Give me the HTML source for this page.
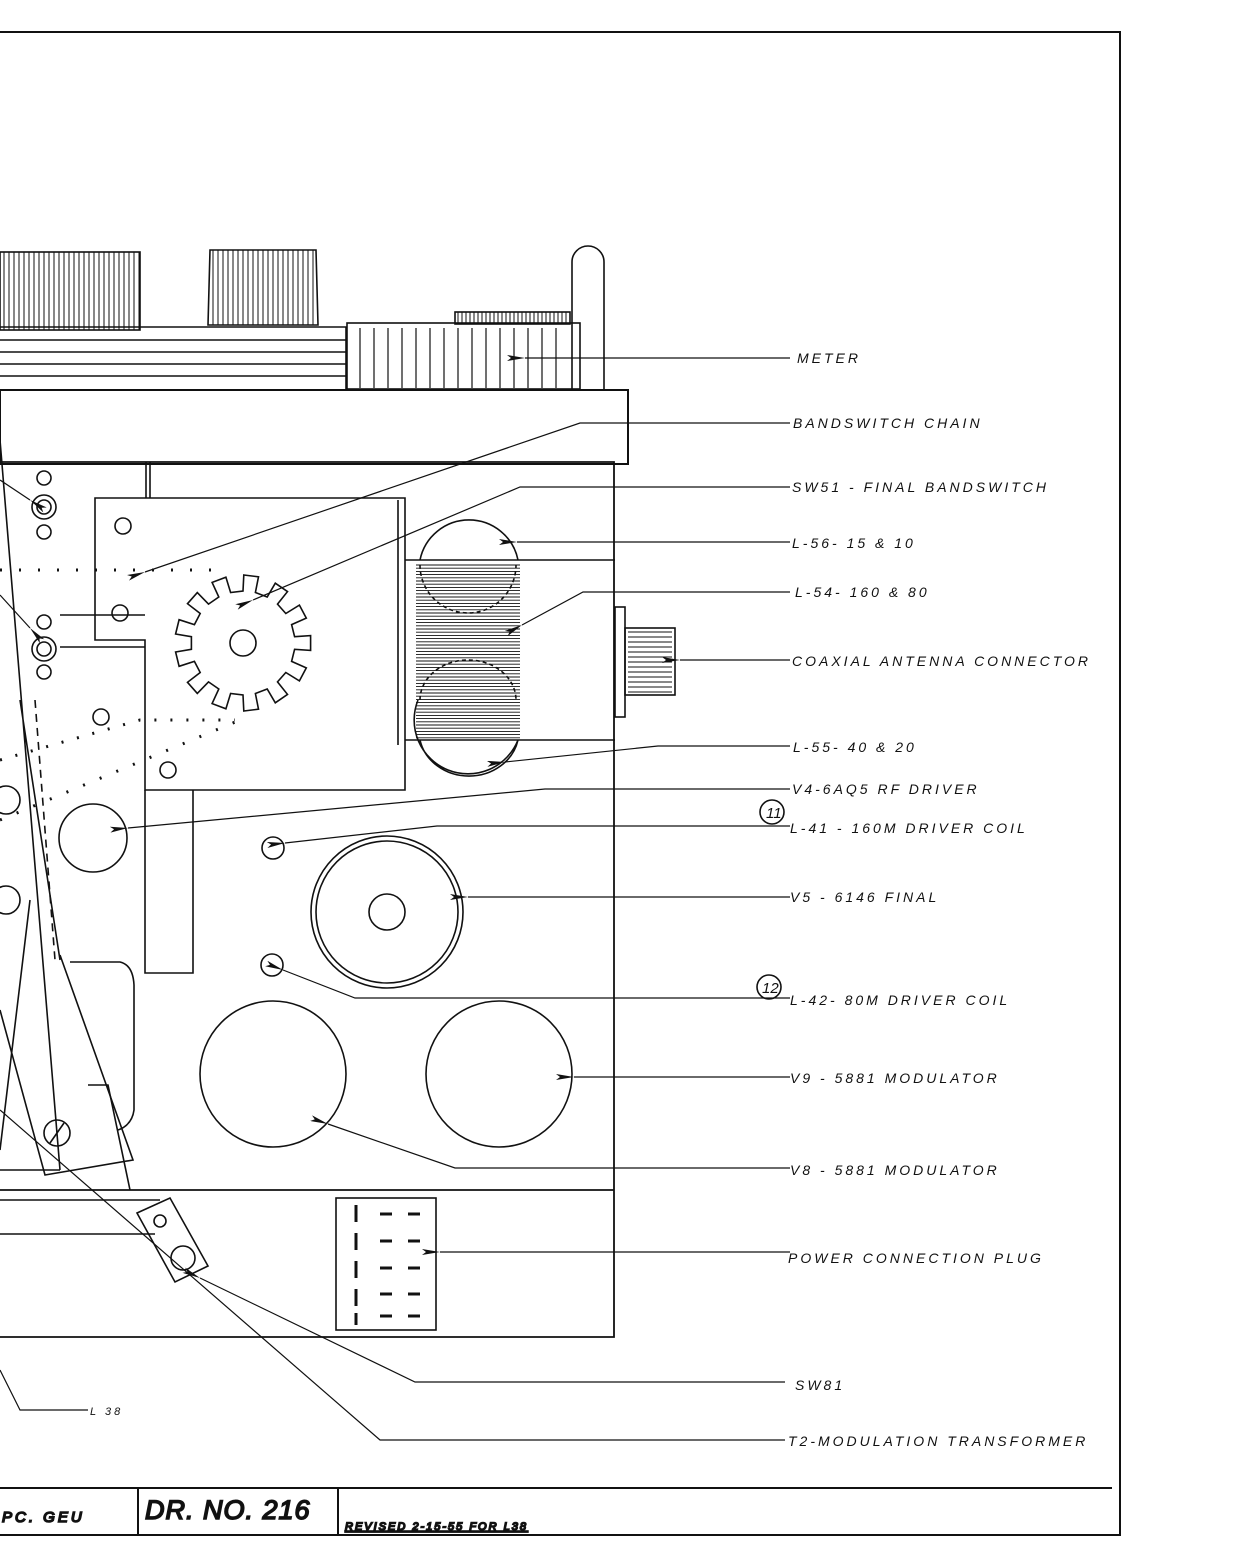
<!DOCTYPE html>
<html><head><meta charset="utf-8"><style>
html,body{margin:0;padding:0;background:#fff;}
svg{display:block;}
text{font-family:"Liberation Sans",sans-serif;font-style:italic;font-size:14px;letter-spacing:3px;fill:#111;}
</style></head><body>
<svg id="s" width="1260" height="1568" viewBox="0 0 1260 1568" xmlns="http://www.w3.org/2000/svg" fill="none" stroke="#111" stroke-width="1.6">
<defs><marker id="a" markerWidth="18" markerHeight="6" refX="0" refY="3" orient="auto-start-reverse" markerUnits="userSpaceOnUse"><path d="M0,3 L18,0 L14,3 L18,6Z" fill="#111" stroke="none"/></marker></defs>
<!-- frame -->
<path d="M0,32 H1120 V1535 H0" stroke-width="2"/>
<path d="M0,1488 H1112 M138,1488 V1535 M338,1488 V1535" stroke-width="2"/>
<text x="2" y="1522" style="font-size:15px">PC. GEU</text>
<text x="145" y="1519" style="font-size:27px;letter-spacing:1px">DR. NO. 216</text>
<text x="345" y="1530" style="font-size:11px;letter-spacing:2px;text-decoration:underline">REVISED 2-15-55 FOR L38</text>
<!-- knobs -->
<g id="knobs">
<rect x="0" y="252" width="140" height="78"/>
<path d="M210,250 H316 L318,325 H208Z"/>
</g>
<path d="M0,327 H346 V390 M0,340 H346 M0,352 H346 M0,364 H346 M0,376 H346"/>
<rect x="347" y="323" width="233" height="66"/>
<rect x="455" y="312" width="115" height="12"/>
<path d="M572,390 V262 A16,16 0 0 1 604,262 V390"/>
<rect x="0" y="390" width="628" height="74" stroke-width="2"/>
<!-- chassis -->
<path d="M0,462 H614 V1337 H0 M0,1190 H614" stroke-width="1.8"/>
<path d="M146,462 V498 M150,462 V498"/>
<path d="M95,498 H405 V790 H145 V640 H95Z"/>
<path d="M145,790 V973 H193 V790 M398,500 V745 M405,560 H615 M405,740 H615 M60,615 H145 M60,647 H145"/>
<!-- coils -->
<path d="M420,560 A50,50 0 0 1 518,560"/>
<path d="M418,700 A50,50 0 0 0 518,740 A50,45 0 0 1 420,740"/>
<g id="coil"></g>
<path d="M420,565 A48,48 0 0 0 516,565 M420,700 A48,40 0 0 1 516,700" stroke-dasharray="4 3"/>
<!-- coax -->
<rect x="615" y="607" width="10" height="110"/>
<rect x="625" y="628" width="50" height="67"/>
<g id="coax"></g>
<!-- gear -->
<path id="gear"/>
<circle cx="243" cy="643" r="13"/>
<!-- screws -->
<circle cx="123" cy="526" r="8"/><circle cx="120" cy="613" r="8"/><circle cx="101" cy="717" r="8"/><circle cx="168" cy="770" r="8"/>
<circle cx="44" cy="507" r="12"/><circle cx="44" cy="507" r="7"/><circle cx="44" cy="478" r="7"/><circle cx="44" cy="532" r="7"/>
<circle cx="44" cy="649" r="12"/><circle cx="44" cy="649" r="7"/><circle cx="44" cy="622" r="7"/><circle cx="44" cy="672" r="7"/>
<circle cx="273" cy="848" r="11"/><circle cx="272" cy="965" r="11"/>
<circle cx="6" cy="800" r="14"/><circle cx="6" cy="900" r="14"/>
<!-- slanted bar -->
<path d="M0,440 L60,1170 M0,1170 H60 M20,700 L60,960 M0,1150 L30,900"/>
<path d="M35,700 L55,960" stroke-dasharray="8 6"/>
<path d="M0,760 L140,720 L235,720" stroke-dasharray="2 14" stroke-width="3"/>
<path d="M0,570 H220" stroke-dasharray="2 17" stroke-width="3"/>
<path d="M0,820 L240,720" stroke-dasharray="2 16" stroke-width="3"/>
<path d="M60,955 L133,1160 L45,1175 L0,1010"/>
<circle cx="57" cy="1133" r="13"/><path d="M50,1143 L64,1123"/>
<path d="M70,962 H120 Q133,965 134,985 V1110 Q132,1125 118,1130 M88,1085 H108 L130,1190"/>
<!-- tubes -->
<circle cx="93" cy="838" r="34"/>
<circle cx="387" cy="912" r="76"/><circle cx="387" cy="912" r="71"/><circle cx="387" cy="912" r="18"/>
<circle cx="273" cy="1074" r="73"/><circle cx="499" cy="1074" r="73"/>
<!-- plug -->
<rect x="336" y="1198" width="100" height="132"/>
<g stroke-width="3"><path d="M356,1205 V1222 M356,1233 V1250 M356,1261 V1278 M356,1289 V1306 M356,1313 V1325"/>
<path d="M380,1214 h12 M408,1214 h12 M380,1241 h12 M408,1241 h12 M380,1268 h12 M408,1268 h12 M380,1294 h12 M408,1294 h12 M380,1316 h12 M408,1316 h12"/></g>
<!-- SW81 -->
<path d="M137,1213 L170,1198 L208,1266 L175,1282Z"/><circle cx="160" cy="1221" r="6"/><circle cx="183" cy="1258" r="12"/>
<path d="M0,1200 H160 M0,1234 H155"/>
<!-- leaders -->
<g stroke-width="1.2">
<path d="M790,358 H525" marker-end="url(#a)"/>
<path d="M790,423 H580 L145,572" marker-end="url(#a)"/>
<path d="M790,487 H520 L253,600" marker-end="url(#a)"/>
<path d="M790,542 H517" marker-end="url(#a)"/>
<path d="M790,592 H583 L522,625" marker-end="url(#a)"/>
<path d="M790,660 H680" marker-end="url(#a)"/>
<path d="M790,746 H658 L505,762" marker-end="url(#a)"/>
<path d="M790,789 H545 L128,828" marker-end="url(#a)"/>
<path d="M790,826 H437 L285,843" marker-end="url(#a)"/>
<path d="M790,897 H468" marker-end="url(#a)"/>
<path d="M790,998 H355 L283,970" marker-end="url(#a)"/>
<path d="M790,1077 H574" marker-end="url(#a)"/>
<path d="M790,1168 H455 L328,1124" marker-end="url(#a)"/>
<path d="M790,1252 H440" marker-end="url(#a)"/>
<path d="M785,1382 H415 L200,1278" marker-end="url(#a)"/>
<path d="M785,1440 H380 L0,1110"/>
<path d="M88,1410 H20 L0,1370"/>
<path d="M0,480 L30,500" marker-end="url(#a)"/><path d="M0,595 L30,628" marker-end="url(#a)"/>
</g>
<circle cx="772" cy="812" r="12"/><circle cx="769" cy="987" r="12"/>
<g stroke="none">
<text x="766" y="818" style="font-size:15px;letter-spacing:0">11</text>
<text x="762" y="993" style="font-size:15px;letter-spacing:0">12</text>
<text x="797" y="363">METER</text>
<text x="793" y="428">BANDSWITCH CHAIN</text>
<text x="792" y="492">SW51 - FINAL BANDSWITCH</text>
<text x="792" y="548">L-56- 15 &amp; 10</text>
<text x="795" y="597">L-54- 160 &amp; 80</text>
<text x="792" y="666">COAXIAL ANTENNA CONNECTOR</text>
<text x="793" y="752">L-55- 40 &amp; 20</text>
<text x="792" y="794">V4-6AQ5  RF DRIVER</text>
<text x="790" y="833">L-41 - 160M DRIVER COIL</text>
<text x="790" y="902">V5 - 6146    FINAL</text>
<text x="790" y="1005">L-42- 80M DRIVER COIL</text>
<text x="790" y="1083">V9 - 5881 MODULATOR</text>
<text x="790" y="1175">V8 - 5881 MODULATOR</text>
<text x="788" y="1263">POWER CONNECTION PLUG</text>
<text x="795" y="1390">SW81</text>
<text x="788" y="1446">T2-MODULATION TRANSFORMER</text>
<text x="90" y="1415" style="font-size:11px">L 38</text>
</g>
</svg>
<script>
var NS="http://www.w3.org/2000/svg";
function P(d,p,w){var e=document.createElementNS(NS,"path");e.setAttribute("d",d);if(w)e.setAttribute("stroke-width",w);document.getElementById(p).appendChild(e);}
var d="";for(var x=4;x<140;x+=5)d+="M"+x+",252V330";for(var x=213;x<316;x+=5)d+="M"+x+",250V325";P(d,"knobs",1);
d="";for(var x=360;x<570;x+=14)d+="M"+x+",328V388";P(d,"knobs",1.2);
d="";for(var x=458;x<570;x+=4)d+="M"+x+",312V324";P(d,"knobs",1);
d="";for(var y=565;y<738;y+=3.2)d+="M416,"+y+"H520";P(d,"coil",0.9);
d="";for(var y=632;y<694;y+=5)d+="M628,"+y+"H672";P(d,"coax",1);
var cx=243,cy=643,n=13,R1=52,R2=68,g="";
for(var i=0;i<n;i++){var t=i*2*Math.PI/n,s=Math.PI/n;
var pts=[[R1,t-s*0.5],[R2,t-s*0.45],[R2,t+s*0.45],[R1,t+s*0.5],[R1,t+s*1.5]];
pts.forEach(function(p,j){g+=(i==0&&j==0?"M":"L")+(cx+p[0]*Math.cos(p[1])).toFixed(1)+","+(cy+p[0]*Math.sin(p[1])).toFixed(1);});}
document.getElementById("gear").setAttribute("d",g+"Z");
</script>
</body></html>
